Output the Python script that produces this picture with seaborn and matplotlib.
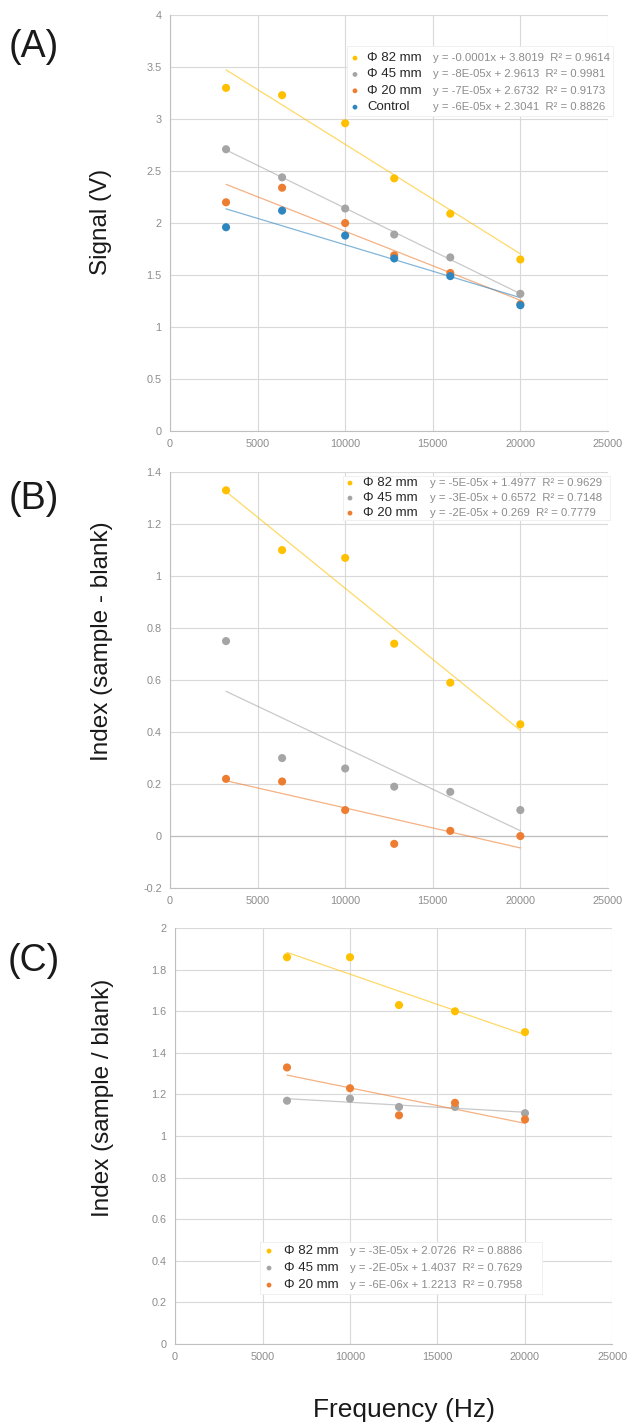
"""Signal and index vs. frequency for three sample sizes (panels A-C)."""

import matplotlib
matplotlib.use("Agg")
import matplotlib.pyplot as plt
from matplotlib.patches import Rectangle
from matplotlib.ticker import FuncFormatter, MultipleLocator
import pandas as pd
import seaborn as sns

# ---- data -------------------------------------------------------------
FREQ_AB = [3200, 6400, 10000, 12800, 16000, 20000]
FREQ_C = [6400, 10000, 12800, 16000, 20000]

SERIES = ["Φ 82 mm", "Φ 45 mm", "Φ 20 mm", "Control"]

SIGNAL_82 = [3.30, 3.23, 2.96, 2.43, 2.09, 1.65]
SIGNAL_45 = [2.71, 2.44, 2.14, 1.89, 1.67, 1.32]
SIGNAL_20 = [2.20, 2.34, 2.00, 1.69, 1.52, 1.22]
SIGNAL_CTRL = [1.96, 2.12, 1.88, 1.66, 1.49, 1.21]

DIFF_82 = [1.33, 1.10, 1.07, 0.74, 0.59, 0.43]
DIFF_45 = [0.75, 0.30, 0.26, 0.19, 0.17, 0.10]
DIFF_20 = [0.22, 0.21, 0.10, -0.03, 0.02, 0.00]

RATIO_82 = [1.86, 1.86, 1.63, 1.60, 1.50]
RATIO_45 = [1.17, 1.18, 1.14, 1.14, 1.11]
RATIO_20 = [1.33, 1.23, 1.10, 1.16, 1.08]

EQ_A = [
    "y = -0.0001x + 3.8019  R² = 0.9614",
    "y = -8E-05x + 2.9613  R² = 0.9981",
    "y = -7E-05x + 2.6732  R² = 0.9173",
    "y = -6E-05x + 2.3041  R² = 0.8826",
]
EQ_B = [
    "y = -5E-05x + 1.4977  R² = 0.9629",
    "y = -3E-05x + 0.6572  R² = 0.7148",
    "y = -2E-05x + 0.269  R² = 0.7779",
]
EQ_C = [
    "y = -3E-05x + 2.0726  R² = 0.8886",
    "y = -2E-05x + 1.4037  R² = 0.7629",
    "y = -6E-06x + 1.2213  R² = 0.7958",
]

COLORS = {
    "Φ 82 mm": "#FFC000",
    "Φ 45 mm": "#A5A5A5",
    "Φ 20 mm": "#ED7D31",
    "Control": "#2E86C1",
}
GRID = "#D9D9D9"
TICK = "#8C8C8C"


def to_long(freqs, values):
    frames = []
    for name, vals in values.items():
        frames.append(pd.DataFrame({"freq": freqs, "value": vals, "series": name}))
    return pd.concat(frames, ignore_index=True)


def fmt(v, _pos):
    return f"{round(v, 2):g}"


def draw_panel(ax, df, ylim, ystep):
    for name, grp in df.groupby("series", sort=False):
        sns.regplot(data=grp, x="freq", y="value", ax=ax, scatter=False, ci=None,
                    truncate=True, color=COLORS[name],
                    line_kws={"lw": 0.9, "alpha": 0.6, "zorder": 2})
    sns.scatterplot(data=df, x="freq", y="value", hue="series", palette=COLORS,
                    s=34, edgecolor="none", ax=ax, legend=False, zorder=3)
    ax.set_xlim(0, 25000)
    ax.set_ylim(*ylim)
    ax.xaxis.set_major_locator(MultipleLocator(5000))
    ax.yaxis.set_major_locator(MultipleLocator(ystep))
    ax.xaxis.set_major_formatter(FuncFormatter(fmt))
    ax.yaxis.set_major_formatter(FuncFormatter(fmt))
    ax.set_xlabel("")
    ax.set_ylabel("")
    ax.grid(True, color=GRID, lw=0.8)
    ax.set_axisbelow(True)
    for side in ["top", "right"]:
        ax.spines[side].set_visible(False)
    for side in ["left", "bottom"]:
        ax.spines[side].set_color("#BFBFBF")
        ax.spines[side].set_linewidth(0.8)
    ax.tick_params(length=0, labelsize=7.8, labelcolor=TICK, pad=6)


def draw_key(ax, names, eqs, x_marker, x_label, x_eq, y_top, step, box):
    # white panel behind the key, like the Excel legend
    bx0, by0, bx1, by1 = box
    ax.add_patch(Rectangle((bx0, by0), bx1 - bx0, by1 - by0, transform=ax.transAxes,
                           facecolor="white", edgecolor="#EEEEEE", lw=0.6, zorder=4,
                           clip_on=False))
    for i, (name, eq) in enumerate(zip(names, eqs)):
        y = y_top - i * step
        ax.scatter([x_marker], [y], s=12, color=COLORS[name], transform=ax.transAxes,
                   zorder=5, clip_on=False, edgecolor="none")
        ax.text(x_label, y, name, transform=ax.transAxes, fontsize=9.5,
                color="#262626", va="center", ha="left", zorder=5)
        ax.text(x_eq, y, eq, transform=ax.transAxes, fontsize=8.2,
                color="#8C8C8C", va="center", ha="left", zorder=5)


sns.set_theme(style="white")
plt.rcParams["font.family"] = ["Liberation Sans", "DejaVu Sans"]

fig = plt.figure(figsize=(6.3, 14.25), dpi=100)
ax_a = fig.add_axes([0.2698, 0.6975, 0.6952, 0.2919])
ax_b = fig.add_axes([0.2698, 0.3768, 0.6952, 0.2919])
ax_c = fig.add_axes([0.2778, 0.0568, 0.6944, 0.2919])

df_a = to_long(FREQ_AB, {SERIES[0]: SIGNAL_82, SERIES[1]: SIGNAL_45,
                         SERIES[2]: SIGNAL_20, SERIES[3]: SIGNAL_CTRL})
df_b = to_long(FREQ_AB, {SERIES[0]: DIFF_82, SERIES[1]: DIFF_45, SERIES[2]: DIFF_20})
df_c = to_long(FREQ_C, {SERIES[0]: RATIO_82, SERIES[1]: RATIO_45, SERIES[2]: RATIO_20})

draw_panel(ax_a, df_a, (0, 4), 0.5)
draw_panel(ax_b, df_b, (-0.2, 1.4), 0.2)
draw_panel(ax_c, df_c, (0, 2), 0.2)
ax_b.axhline(0, color="#BFBFBF", lw=0.9, zorder=1)

draw_key(ax_a, SERIES, EQ_A, 0.4224, 0.4498, 0.6005, 0.8966, 0.0393,
         (0.404, 0.757, 1.012, 0.925))
draw_key(ax_b, SERIES[:3], EQ_B, 0.411, 0.4406, 0.5936, 0.9736, 0.0361,
         (0.395, 0.885, 1.005, 0.99))
draw_key(ax_c, SERIES[:3], EQ_C, 0.2149, 0.249, 0.40, 0.2236, 0.0409,
         (0.194, 0.12, 0.84, 0.245))

# panel tags and axis titles
for tag, y in [("(A)", 0.967), ("(B)", 0.6498), ("(C)", 0.3256)]:
    fig.text(0.054, y, tag, fontsize=27, ha="center", va="center", color="#1a1a1a")
for label, x, y in [("Signal (V)", 0.160, 0.8442),
                    ("Index (sample - blank)", 0.162, 0.5502),
                    ("Index (sample / blank)", 0.1635, 0.2295)]:
    fig.text(x, y, label, rotation=90, fontsize=17.5, ha="center", va="center",
             color="#1a1a1a")
fig.text(0.641, 0.0105, "Frequency (Hz)", fontsize=19, ha="center", va="center",
         color="#1a1a1a")

fig.savefig("out.png", dpi=100, facecolor="white")
